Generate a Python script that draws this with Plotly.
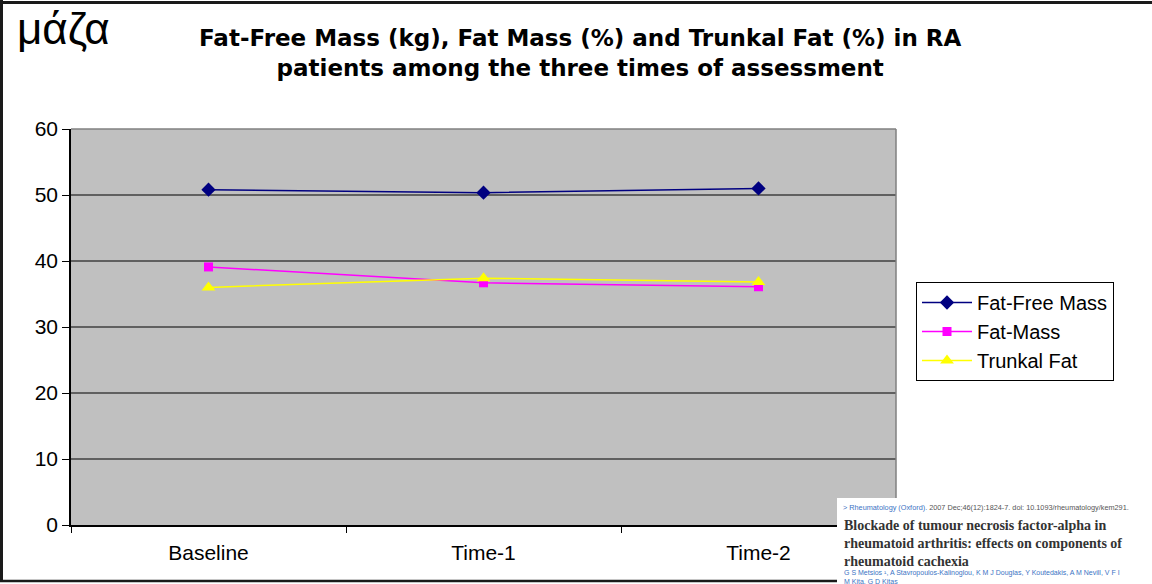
import plotly.graph_objects as go

categories = ["Baseline", "Time-1", "Time-2"]
fat_free_mass = [50.8, 50.35, 51.0]
fat_mass = [39.1, 36.7, 36.1]
trunkal_fat = [36.0, 37.4, 36.8]
y_ticks = [0, 10, 20, 30, 40, 50, 60]
grid_values = [10, 20, 30, 40, 50]

W, H = 1152, 584
L, R, T, B = 71, 896, 129, 525

def fx(px):
    return (px - L) / (R - L)

def fy(py):
    return (B - py) / (B - T)

FONT = "Liberation Sans, Arial, sans-serif"

fig = go.Figure()
fig.add_trace(go.Scatter(x=categories, y=fat_free_mass, name="Fat-Free Mass",
                         mode="lines+markers",
                         line=dict(color="#000080", width=1.5),
                         marker=dict(symbol="diamond", size=11, color="#000080")))
fig.add_trace(go.Scatter(x=categories, y=fat_mass, name="Fat-Mass",
                         mode="lines+markers",
                         line=dict(color="#FF00FF", width=1.5),
                         marker=dict(symbol="square", size=9, color="#FF00FF")))
fig.add_trace(go.Scatter(x=categories, y=trunkal_fat, name="Trunkal Fat",
                         mode="lines+markers",
                         line=dict(color="#FFFF00", width=1.5),
                         marker=dict(symbol="triangle-up", size=12, color="#FFFF00")))

shapes = []
for g in grid_values:
    shapes.append(dict(type="line", xref="paper", yref="y", x0=0, x1=1, y0=g, y1=g,
                       line=dict(color="black", width=1), layer="below"))
shapes.append(dict(type="line", xref="paper", yref="paper", x0=0, x1=1, y0=1, y1=1,
                   line=dict(color="#808080", width=1.5)))
shapes.append(dict(type="line", xref="paper", yref="paper", x0=1, x1=1, y0=0, y1=1,
                   line=dict(color="#808080", width=1.5)))
shapes.append(dict(type="line", xref="paper", yref="paper", x0=fx(0), x1=fx(W), y0=fy(2.5), y1=fy(2.5),
                   line=dict(color="#1a1a1a", width=3)))
shapes.append(dict(type="line", xref="paper", yref="paper", x0=fx(1.5), x1=fx(1.5), y0=fy(0), y1=fy(581),
                   line=dict(color="#1a1a1a", width=3)))
shapes.append(dict(type="line", xref="paper", yref="paper", x0=fx(0), x1=fx(W), y0=fy(581), y1=fy(581),
                   line=dict(color="#1a1a1a", width=2.5)))
shapes.append(dict(type="rect", xref="paper", yref="paper", x0=fx(837), x1=fx(W + 2), y0=fy(498), y1=fy(H + 2),
                   fillcolor="white", line=dict(width=0), layer="above"))

annotations = [
    dict(text="μάζα", x=fx(15), y=fy(28), xref="paper", yref="paper", xanchor="left", yanchor="middle",
         showarrow=False, font=dict(family=FONT, size=44, color="black")),
    dict(text="<b>Fat-Free Mass (kg), Fat Mass (%) and Trunkal Fat (%) in RA<br>patients among the three times of assessment</b>",
         x=fx(580), y=fy(53), xref="paper", yref="paper", xanchor="center", yanchor="middle",
         showarrow=False, font=dict(family="DejaVu Sans, sans-serif", size=23, color="black")),
    dict(text="<span style='color:#3b73c4'>&gt; Rheumatology (Oxford).</span> 2007 Dec;46(12):1824-7. doi: 10.1093/rheumatology/kem291.",
         x=fx(841), y=fy(507), xref="paper", yref="paper", xanchor="left", yanchor="middle",
         showarrow=False, font=dict(family=FONT, size=7.3, color="#555555")),
    dict(text="<b>Blockade of tumour necrosis factor-alpha in<br>rheumatoid arthritis: effects on components of<br>rheumatoid cachexia</b>",
         x=fx(842), y=fy(543), xref="paper", yref="paper", xanchor="left", yanchor="middle", align="left",
         showarrow=False, font=dict(family="Liberation Serif, DejaVu Serif, serif", size=14, color="#333333")),
    dict(text="G S Metsios ¹, A Stavropoulos-Kalinoglou, K M J Douglas, Y Koutedakis, A M Nevill, V F I<br>M Kita, G D Kitas",
         x=fx(842), y=fy(577), xref="paper", yref="paper", xanchor="left", yanchor="middle", align="left",
         showarrow=False, font=dict(family=FONT, size=7, color="#3b73c4")),
]

fig.update_layout(
    width=W, height=H,
    margin=dict(l=L, r=W - R, t=T, b=H - B, pad=0),
    paper_bgcolor="white",
    plot_bgcolor="#C0C0C0",
    font=dict(family=FONT, size=20, color="black"),
    showlegend=True,
    legend=dict(x=fx(916), y=fy(282), xanchor="left", yanchor="top",
                bordercolor="black", borderwidth=1, bgcolor="white",
                font=dict(family=FONT, size=20, color="black"),
                itemwidth=50, tracegroupgap=0),
    xaxis=dict(type="category", range=[-0.5, 2.5], showgrid=False, showline=True,
               linecolor="black", linewidth=1.5, ticks="outside", tickson="boundaries",
               ticklen=6, tickcolor="black", tickfont=dict(size=21), ticklabelstandoff=8,
               zeroline=False),
    yaxis=dict(range=[0, 60], tickvals=y_ticks, showgrid=False, showline=True,
               linecolor="black", linewidth=1.5, ticks="outside", ticklen=7,
               tickcolor="black", tickfont=dict(size=21), zeroline=False),
    shapes=shapes,
    annotations=annotations,
)

fig.write_html("out.html")
